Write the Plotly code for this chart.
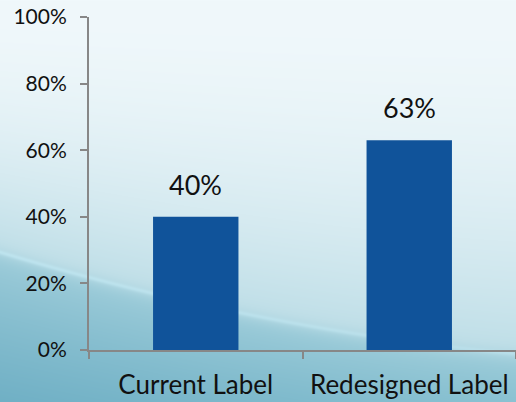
import base64
import struct
import zlib

import numpy as np
import plotly.graph_objects as go

# Chart data
categories = ["Current Label", "Redesigned Label"]
shares = [0.40, 0.63]
y_ticks = [0, 0.2, 0.4, 0.6, 0.8, 1.0]

W, H = 516, 402
M_L, M_R, M_T, M_B = 89, 0, 17, 52
PW, PH = W - M_L - M_R, H - M_T - M_B

BAR = "#10539a"
AXIS = "#878787"
FONT = "Lato"


def background_png():
    """Soft blue gradient with a light diagonal sweep near the bottom."""
    yy, xx = np.mgrid[0:H, 0:W].astype(float)
    top = np.array([240, 248, 251], float)
    mid = np.array([190, 222, 231], float)
    curve = 253 + 0.30 * xx - 0.0002 * xx ** 2
    t = np.clip(yy / curve, 0, 1) ** 1.8
    upper = top + (mid - top) * t[..., None]

    below_top = np.array([160, 206, 219], float)
    bot_left = np.array([112, 176, 197], float)
    bot_right = np.array([138, 194, 210], float)
    bot = bot_left + (bot_right - bot_left) * (xx / W)[..., None]
    d = np.clip((yy - curve) / np.maximum(H - curve, 1), 0, 1)[..., None] ** 0.8
    lower = below_top + (bot - below_top) * d

    blend = 1 / (1 + np.exp(-(yy - curve) / 4.0))
    img = upper * (1 - blend[..., None]) + lower * blend[..., None]
    streak = 12 * np.exp(-((yy - curve + 1) ** 2) / 5.0) * (1 - 0.4 * xx / W)
    img = np.clip(img + streak[..., None], 0, 255).astype(np.uint8)

    raw = b"".join(b"\x00" + row.tobytes() for row in img)

    def chunk(tag, data):
        c = tag + data
        return struct.pack(">I", len(data)) + c + struct.pack(">I", zlib.crc32(c) & 0xFFFFFFFF)

    png = (b"\x89PNG\r\n\x1a\n"
           + chunk(b"IHDR", struct.pack(">IIBBBBB", W, H, 8, 2, 0, 0, 0))
           + chunk(b"IDAT", zlib.compress(raw, 9))
           + chunk(b"IEND", b""))
    return "data:image/png;base64," + base64.b64encode(png).decode()


fig = go.Figure(
    go.Bar(
        x=categories,
        y=shares,
        width=0.4,
        marker=dict(color=BAR, line=dict(width=0)),
        hoverinfo="skip",
    )
)

for cat, val in zip(categories, shares):
    fig.add_annotation(
        x=cat, y=val, text=f"{val:.0%}", showarrow=False,
        yanchor="bottom", yshift=14,
        font=dict(family=FONT, size=27, color="#111111"),
    )

fig.add_layout_image(
    source=background_png(),
    xref="paper", yref="paper",
    x=-M_L / PW, y=1 + M_T / PH,
    sizex=W / PW, sizey=H / PH,
    xanchor="left", yanchor="top",
    sizing="stretch", layer="below",
)

fig.update_layout(
    width=W, height=H,
    margin=dict(l=M_L, r=M_R, t=M_T, b=M_B, pad=0, autoexpand=False),
    paper_bgcolor="rgba(0,0,0,0)",
    plot_bgcolor="rgba(0,0,0,0)",
    showlegend=False,
    font=dict(family=FONT, color="#111111"),
)

fig.update_xaxes(
    type="category", range=[-0.5, 1.5], automargin=False, tickangle=0,
    showline=True, linecolor=AXIS, linewidth=2,
    ticks="outside", tickson="boundaries", ticklen=7, tickwidth=2, tickcolor=AXIS,
    showgrid=False, zeroline=False,
    tickfont=dict(family=FONT, size=26, color="#111111"),
    ticklabelstandoff=11,
)

fig.update_yaxes(
    range=[0, 1], tickvals=y_ticks, tickformat=".0%", automargin=False,
    showline=True, linecolor=AXIS, linewidth=2,
    ticks="outside", ticklen=7, tickwidth=2, tickcolor=AXIS,
    showgrid=False, zeroline=False,
    tickfont=dict(family=FONT, size=21, color="#111111"),
    ticklabelstandoff=9,
)

fig.write_html("out.html")
